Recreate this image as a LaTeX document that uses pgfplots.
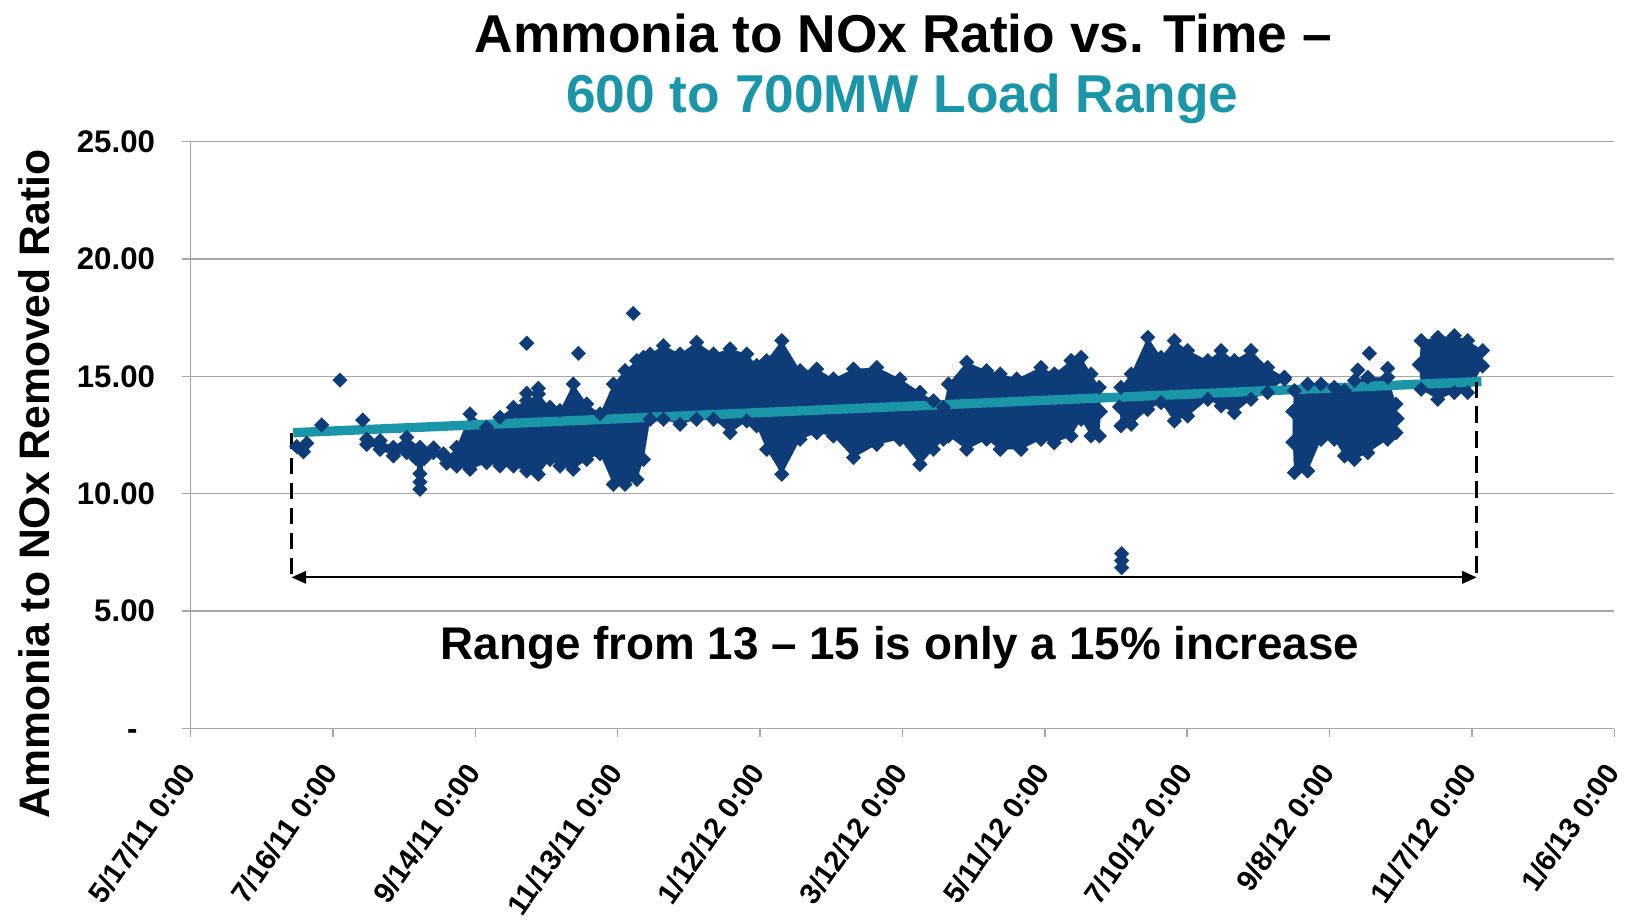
\documentclass[border=0pt]{standalone}
\usepackage{fontspec}
\setmainfont{Liberation Sans}
\usepackage{pgfplots}
\pgfplotsset{compat=1.18}
\usetikzlibrary{arrows.meta}
\definecolor{navy}{HTML}{0D3C78}
\definecolor{trend}{HTML}{1A96A8}
\definecolor{gridc}{HTML}{A6A6A6}
\pgfplotsset{dmd/.style={fill=navy, draw=navy, line width=0.1pt, mark=square*, mark size=2.5pt, mark options={rotate=45, draw=navy, fill=navy, line width=0.1pt}}}
\begin{document}
\begin{tikzpicture}
\begin{axis}[
  scale only axis, width=684pt, height=282pt,
  xmin=0, xmax=600, ymin=0, ymax=25,
  axis x line=bottom, axis y line=left,
  axis line style={-, draw=gridc, line width=0.8pt},
  xtick={0,60,...,600},
  xticklabels={5/17/11 0:00,7/16/11 0:00,9/14/11 0:00,11/13/11 0:00,1/12/12 0:00,3/12/12 0:00,5/11/12 0:00,7/10/12 0:00,9/8/12 0:00,11/7/12 0:00,1/6/13 0:00},
  ytick={0,5,10,15,20,25},
  yticklabels={-\phantom{0},5.00,10.00,15.00,20.00,25.00},
  ymajorgrids, grid style={gridc, line width=0.7pt},
  tick align=outside, major tick length=4pt,
  tick style={gridc, line width=0.7pt},
  /pgf/number format/assume math mode=true,
  yticklabel style={font=\bfseries\fontsize{15}{15}\selectfont, anchor=east, xshift=-9.5pt},
  xticklabel style={font=\bfseries\fontsize{14}{14}\selectfont, xshift=1pt, yshift=-11.5pt, rotate=55, anchor=east},
  clip=false,
]
% cluster Jul-Aug 2011
\addplot[dmd] coordinates {(74.3,12.33) (79.9,12.26) (85.5,11.98) (91.1,12.40) (96.7,11.98) (102.4,11.95) (106.6,11.7) (106.6,11.6) (102.4,11.75) (98.5,11.5) (96.7,10.19) (95.0,11.5) (91.1,11.75) (85.5,11.61) (79.9,11.89) (74.3,12.10)} -- cycle;
% main cloud Sep 2011 - Jun 2012
\addplot[dmd] coordinates {(108.0,11.5) (112.2,11.98) (117.8,13.40) (124.8,12.83) (130.4,13.26) (136.1,13.68) (141.7,13.96) (146.6,14.25) (151.5,13.68) (155.7,13.54) (161.3,14.67) (167.0,13.82) (172.6,13.40) (178.2,14.67) (183.1,15.24) (188.1,15.67) (190.9,15.81) (193.7,15.95) (199.3,16.31) (206.3,15.95) (213.3,16.45) (220.4,15.95) (227.4,16.17) (234.4,15.95) (238.6,15.46) (242.8,15.67) (249.2,16.52) (256.9,15.24) (263.9,15.31) (270.9,14.89) (279.4,15.31) (289.2,15.38) (299.0,14.89) (307.4,14.32) (313.1,13.96) (317.3,13.68) (319.4,14.67) (327.1,15.60) (335.5,15.24) (341.2,15.10) (348.2,14.89) (358.4,15.38) (364.0,15.10) (371.1,15.67) (375.3,15.81) (379.5,15.10) (383.0,14.53) (383.5,13.5)
 (383.0,12.46) (379.5,12.46) (375.3,13.17) (371.1,12.46) (364.0,12.17) (358.4,12.32) (350.0,11.89) (341.2,11.89) (335.5,12.32) (327.1,11.89) (319.4,12.46) (317.3,12.32) (313.1,11.89) (307.4,11.25) (299.0,12.32) (289.2,12.10) (279.4,11.54) (270.9,12.46) (263.9,12.60) (256.9,12.32) (249.2,10.83) (242.8,11.89) (238.6,12.89) (234.4,13.10) (227.4,12.60) (220.4,13.17) (213.3,13.17) (206.3,12.96) (199.3,13.17) (193.7,13.17) (190.9,11.46) (188.1,10.61) (183.1,10.40) (178.2,10.40) (172.6,11.70) (167.0,11.46) (161.3,11.04) (155.7,11.18) (151.5,11.46) (146.6,10.83) (141.7,10.97) (136.1,11.18) (130.4,11.18) (124.8,11.32) (117.8,11.04) (112.2,11.18) (108.0,11.3)} -- cycle;
% Jul-Aug 2012
\addplot[dmd] coordinates {(392.1,14.53) (396.4,15.10) (403.4,16.66) (409.0,15.81) (414.6,16.52) (420.2,16.10) (428.7,15.67) (434.3,16.10) (439.9,15.67) (446.9,16.10) (453.9,15.38) (461.0,14.96) (461.0,14.87) (453.9,14.31) (446.9,14.02) (439.9,13.45) (434.3,13.74) (428.7,14.02) (420.2,13.31) (414.6,13.10) (409.0,13.88) (403.4,13.59) (396.4,12.96) (392.1,12.89) (391.5,13.7)} -- cycle;
% Sep-Oct 2012
\addplot[dmd] coordinates {(465.2,14.39) (470.8,14.67) (476.4,14.67) (482.0,14.53) (486.3,14.39) (490.5,14.82) (496.1,14.96) (504.5,14.96) (508.0,13.82) (508.5,13.2) (508.0,12.60) (504.5,12.32) (496.1,11.75) (490.5,11.46) (486.3,11.61) (482.0,12.32) (476.4,12.32) (470.8,10.97) (465.2,10.90) (464.5,12.2) (464.5,13.5)} -- cycle;
% Oct-Nov 2012
\addplot[dmd] coordinates {(518.6,16.52) (525.6,16.66) (532.6,16.73) (538.2,16.52) (544.5,16.10) (544.5,15.44) (538.2,14.31) (532.6,14.31) (525.6,14.02) (518.6,14.45) (517.8,15.5)} -- cycle;
% isolated points
\addplot[only marks, mark=square*, mark size=2.5pt, mark options={rotate=45, draw=navy, fill=navy, line width=0.1pt}] coordinates {(44.8,12.01) (47.6,11.79) (49.0,12.15) (55.3,12.93) (63.0,14.84) (72.6,13.14) (96.7,10.5) (96.7,10.85) (141.7,16.41) (163.5,15.98) (146.6,14.49) (141.7,14.28) (186.6,17.68) (496.8,15.98) (504.5,15.34) (491.9,15.27) (392.4,7.45) (392.4,7.15) (392.4,6.85)};
% trend line
\addplot[trend, line width=4.5pt] coordinates {(43.3,12.6) (544,14.78)};
% dashed verticals and arrow
\addplot[black, line width=1.6pt, dash pattern=on 8pt off 4pt] coordinates {(42.6,12.6) (42.6,6.45)};
\addplot[black, line width=1.6pt, dash pattern=on 8pt off 4pt] coordinates {(542,14.78) (542,6.45)};
\addplot[black, line width=1pt, {Triangle[length=7pt,width=6pt]}-{Triangle[length=7pt,width=6pt]}] coordinates {(42.6,6.44) (542,6.44)};
% texts
\node[anchor=base, font=\bfseries\fontsize{22}{22}\selectfont] at (axis cs:299,2.95) {Range from 13 – 15 is only a 15\% increase};
\node[anchor=base, font=\bfseries\fontsize{25.6}{26}\selectfont] at ([yshift=43pt]rel axis cs:0.5007,1) {Ammonia to NOx Ratio vs. Time –};
\node[anchor=base, font=\bfseries\fontsize{25.6}{26}\selectfont, text=trend] at ([yshift=14pt]rel axis cs:0.5,1) {600 to 700MW Load Range};
\node[rotate=90, anchor=base, font=\bfseries\fontsize{20.5}{21}\selectfont] at ([xshift=-67.5pt]rel axis cs:0,0.4167) {Ammonia to NOx Removed Ratio};
\end{axis}
\pgfresetboundingbox
\path[use as bounding box] ([xshift=-91.5pt,yshift=-92.5pt]current axis.south west) rectangle ([xshift=8.5pt,yshift=68pt]current axis.north east);
\end{tikzpicture}
\end{document}
